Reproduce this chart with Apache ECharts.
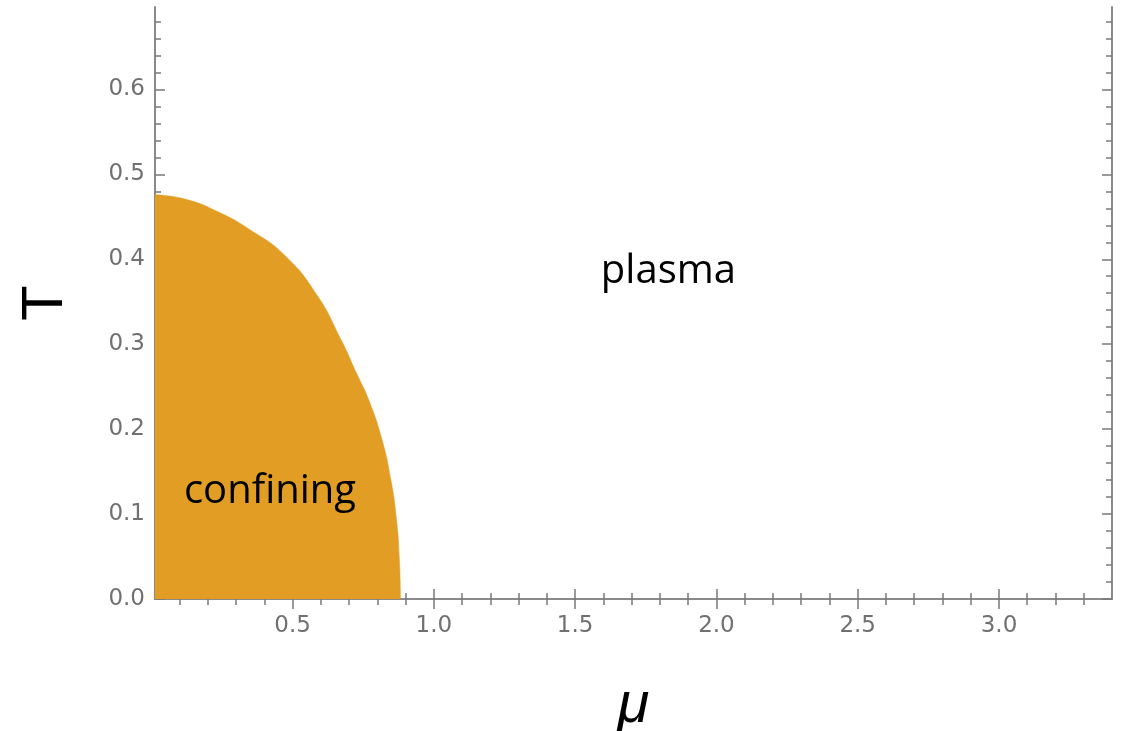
<!DOCTYPE html>
<html>
<head>
<meta charset="utf-8">
<script src="https://cdn.jsdelivr.net/npm/echarts@6/dist/echarts.min.js"></script>
<style>
  html, body { margin: 0; padding: 0; background: #fff; }
  #chart { width: 1122px; height: 731px; }
</style>
</head>
<body>
<div id="chart"></div>
<script>
// phase boundary (mu, T)
const mu   = [0.013, 0.118, 0.236, 0.353, 0.471, 0.586, 0.672, 0.726, 0.770, 0.817, 0.848, 0.868, 0.878, 0.882];
const temp = [0.476, 0.471, 0.456, 0.434, 0.405, 0.358, 0.305, 0.266, 0.234, 0.187, 0.140, 0.093, 0.046, 0.000];

const muTicks = [0.5, 1.0, 1.5, 2.0, 2.5, 3.0];
const tTicks  = [0.0, 0.1, 0.2, 0.3, 0.4, 0.5, 0.6];

// region names and where they sit (mu, T)
const regionNames = ['plasma', 'confining'];
const regionMu    = [1.83, 0.42];
const regionT     = [0.385, 0.126];

const MU_MIN = 0.013, MU_MAX = 3.4;
const T_MIN = 0, T_MAX = 0.697;

// minor ticks, every 0.1 on mu and 0.02 on T
let muMinor = [], tMinor = [];
for (let i = 1; i <= 33; i++) muMinor.push(+(i * 0.1).toFixed(2));
for (let i = 1; i <= 34; i++) tMinor.push(+(i * 0.02).toFixed(2));

const axisGrey = '#8a8a8a';
const tickGrey = '#7a7a7a';
const fillColor = '#E19D24';
const labelStyle = { color: '#707070', fontFamily: 'DejaVu Sans', fontSize: 23 };

function xAx(gridIndex, pos, major) {
    return {
        type: 'value', gridIndex: gridIndex, position: pos,
        min: MU_MIN, max: MU_MAX,
        name: (major && pos === 'bottom') ? 'μ' : '',
        nameLocation: 'middle', nameGap: 78,
        nameTextStyle: { color: '#000', fontFamily: 'Liberation Sans', fontStyle: 'italic', fontSize: 58 },
        axisLine: { show: major, lineStyle: { color: axisGrey, width: 2 } },
        axisTick: {
            show: true, inside: true, length: major ? 10 : 6,
            customValues: major ? muTicks : muMinor,
            lineStyle: { color: tickGrey, width: 1.5 }
        },
        axisLabel: Object.assign({
            show: major && pos === 'bottom', margin: 16,
            customValues: muTicks,
            formatter: v => v.toFixed(1)
        }, labelStyle),
        splitLine: { show: false }
    };
}

function yAx(gridIndex, pos, major) {
    return {
        type: 'value', gridIndex: gridIndex, position: pos,
        min: T_MIN, max: T_MAX,
        name: (major && pos === 'left') ? 'T' : '',
        nameLocation: 'middle', nameGap: 80, nameRotate: 90,
        nameTextStyle: { color: '#000', fontFamily: 'Liberation Sans', fontSize: 58 },
        axisLine: { show: major, lineStyle: { color: axisGrey, width: 2 } },
        axisTick: {
            show: true, inside: true, length: major ? 10 : 6,
            customValues: major ? tTicks : tMinor,
            lineStyle: { color: tickGrey, width: 1.5 }
        },
        axisLabel: Object.assign({
            show: major && pos === 'left', margin: 10,
            customValues: tTicks,
            formatter: v => v.toFixed(1)
        }, labelStyle),
        splitLine: { show: false }
    };
}

const gridBox = { left: 155, top: 7, width: 957, height: 592, containLabel: false, outerBoundsMode: 'none' };

const option = {
    animation: false,
    backgroundColor: '#fff',
    grid: [Object.assign({}, gridBox), Object.assign({}, gridBox)],
    xAxis: [xAx(0, 'bottom', true), xAx(0, 'top', true), xAx(1, 'bottom', false), xAx(1, 'top', false)],
    yAxis: [yAx(0, 'left', true), yAx(0, 'right', true), yAx(1, 'left', false), yAx(1, 'right', false)],
    series: [
        {
            type: 'line',
            xAxisIndex: 0, yAxisIndex: 0,
            z: 1,
            data: mu.map((m, i) => [m, temp[i]]),
            smooth: 0.5,
            showSymbol: false,
            lineStyle: { width: 0.5, color: fillColor },
            areaStyle: { color: fillColor, opacity: 1 }
        }
    ]
};

const chart = echarts.init(document.getElementById('chart'));
chart.setOption(option);

// region names placed at data coordinates through the axes
chart.setOption({
    graphic: regionNames.map((n, i) => {
        const p = chart.convertToPixel({ gridIndex: 0 }, [regionMu[i], regionT[i]]);
        return {
            type: 'text', x: p[0], y: p[1], z: 100,
            style: {
                text: n, fill: '#000', align: 'center', verticalAlign: 'middle',
                fontFamily: 'Open Sans', fontSize: 40
            }
        };
    })
});
window.addEventListener('resize', chart.resize);
</script>
</body>
</html>
